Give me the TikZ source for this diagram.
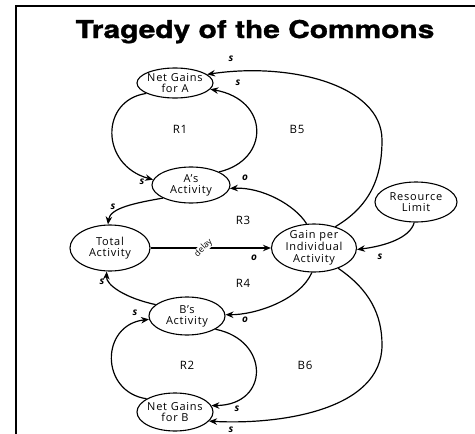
\documentclass[tikz,border=0pt]{standalone}
\usepackage{fontspec}
\setmainfont{Open Sans}[LetterSpace=7]
\newfontfamily\plainfont{Open Sans}
\newfontfamily\titlefont{TeX Gyre Heros}[BoldFeatures={FakeBold=1.2}]
\usetikzlibrary{shapes.geometric,arrows.meta}
\begin{document}
\begin{tikzpicture}[x=1pt,y=-1pt,
  nd/.style={ellipse,draw,line width=1.1pt,inner sep=-3pt,align=center,
    font=\fontsize{11}{11}\selectfont},
  arr/.style={line width=1.2pt,-{Stealth[length=8pt,width=6.5pt]}},
  pol/.style={font=\fontsize{10}{10}\selectfont\bfseries\itshape,inner sep=0pt},
  looplbl/.style={font=\fontsize{11.5}{11.5}\selectfont,inner sep=0pt},
  frame/.style={line width=2pt}]
\useasboundingbox (0,0) rectangle (475,434);
\draw[frame] (16,434) -- (16,6) -- (475,6);
\node[anchor=base] (title) at (255,38)
  {\scalebox{1.22}[1]{\titlefont\fontsize{24.5}{24.5}\selectfont\bfseries Tragedy of the Commons}};
% nodes
\node[nd,minimum width=76pt,minimum height=30pt] (na) at (175,83) {Net Gains\\for A};
\node[nd,minimum width=78pt,minimum height=36pt] (aa) at (191,185) {A’s\\Activity};
\node[nd,minimum width=80pt,minimum height=46pt] (tot) at (110,248) {Total\\Activity};
\node[nd,minimum width=85pt,minimum height=48pt,font=\fontsize{11}{12}\selectfont] (gp) at (314,248) {Gain per\\Individual\\Activity};
\node[nd,minimum width=82pt,minimum height=40pt] (rl) at (416,202) {Resource\\Limit};
\node[nd,minimum width=76pt,minimum height=38pt] (ba) at (187,316) {B’s\\Activity};
\node[nd,minimum width=76pt,minimum height=38pt] (nb) at (175,412) {Net Gains\\for B};
\coordinate (b5r) at (382,140);
\coordinate (b6r) at (382,345);
% connectors
\draw[arr] (na.200) .. controls (100,100) and (100,165) .. (aa.172);
\draw[arr] (aa.25) .. controls (270,160) and (270,100) .. (na.-10);
\draw[arr] (gp.45) .. controls (372,205) and (382,175) .. (b5r) .. controls (382,85) and (290,62) .. (na.15);
\draw[arr] (gp.107) .. controls (295,205) and (262,187) .. (aa.-5);
\draw[arr] (aa.205) .. controls (135,203) and (110,208) .. (tot.95);
\draw[arr] (tot.east) -- node[pos=0.44,fill=white,rotate=45,inner sep=0.5pt,font=\plainfont\fontsize{8.5}{8.5}\selectfont] (dl) {delay} (gp.west);
\draw[arr] (rl.265) .. controls (410,238) and (385,246) .. (gp.-2);
\draw[arr] (gp.265) .. controls (300,300) and (255,315) .. (ba.2);
\draw[arr] (ba.160) .. controls (125,298) and (106,285) .. (tot.262);
\draw[arr] (nb.155) .. controls (100,392) and (100,325) .. (ba.185);
\draw[arr] (ba.-25) .. controls (270,340) and (270,405) .. (nb.10);
\draw[arr] (gp.-40) .. controls (370,290) and (382,315) .. (b6r) .. controls (382,410) and (280,425) .. (nb.-15);
% loop labels
\node[looplbl] (r1) at (180,129) {R1};
\node[looplbl] (b5) at (297,129) {B5};
\node[looplbl] (r3) at (243,220) {R3};
\node[looplbl] (r4) at (243,283) {R4};
\node[looplbl] (r2) at (187,365) {R2};
\node[looplbl] (b6) at (305,365) {B6};
% polarities
\node[pol] (p1) at (231,59) {s};
\node[pol] (p2) at (238,83) {s};
\node[pol] (p3) at (142,182) {s};
\node[pol] (p4) at (245,178) {o};
\node[pol] (p5) at (113,207) {s};
\node[pol] (p6) at (254,258) {o};
\node[pol] (p7) at (380,257) {s};
\node[pol] (p8) at (102,282) {s};
\node[pol] (p9) at (135,313) {s};
\node[pol] (p10) at (245,320) {o};
\node[pol] (p11) at (237,409) {s};
\node[pol] (p12) at (231,430) {s};
\end{tikzpicture}
\end{document}
